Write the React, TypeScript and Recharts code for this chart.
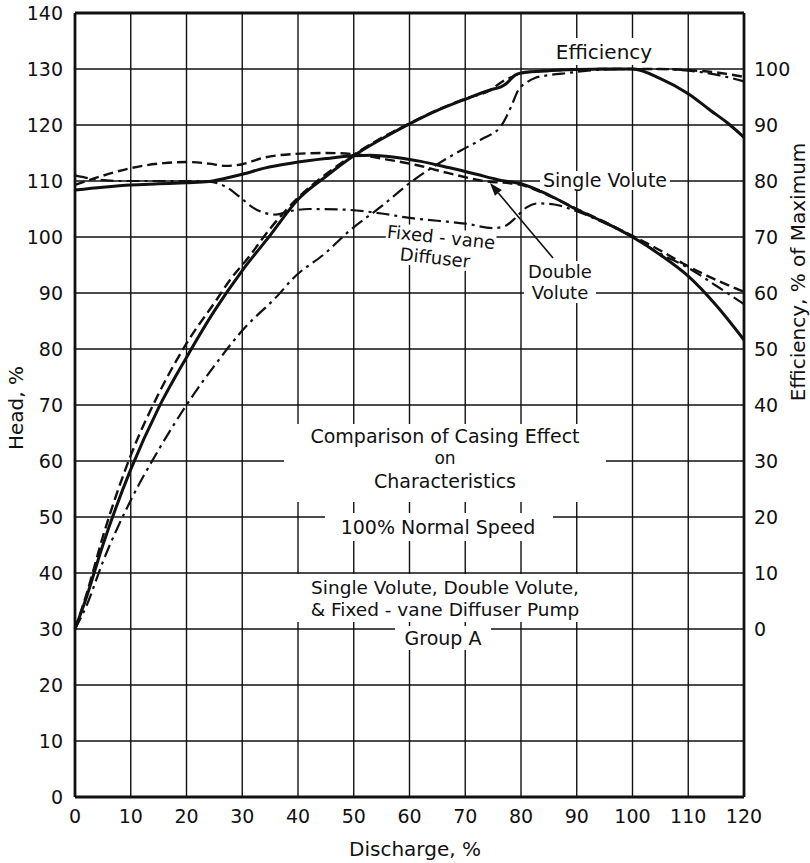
import React from 'react';
import { ComposedChart, Line, XAxis, YAxis, CartesianGrid, ReferenceLine } from 'recharts';

const FONT = '"DejaVu Sans", sans-serif';
const INK = '#111';

// axis ticks
const dischargeTicks = [0, 10, 20, 30, 40, 50, 60, 70, 80, 90, 100, 110, 120];
const headTicks = [0, 10, 20, 30, 40, 50, 60, 70, 80, 90, 100, 110, 120, 130, 140];
const effTicks = [0, 10, 20, 30, 40, 50, 60, 70, 80, 90, 100];

// head, % (left axis)
const singleHeadQ = [0, 5, 10, 15, 20, 24, 27, 30, 34, 39, 45, 50, 53, 57, 62, 67, 72, 76, 80, 85, 90, 95, 100, 105, 110, 115, 120];
const singleHead = [108.4, 108.9, 109.3, 109.5, 109.7, 109.9, 110.5, 111.2, 112.3, 113.2, 114.0, 114.5, 114.6, 114.3, 113.5, 112.4, 111.2, 110.2, 109.5, 107.5, 104.9, 102.6, 100, 96.8, 93, 87.8, 81.6];

const doubleHeadQ = [0, 4.5, 10, 16, 20, 24, 27, 30, 34, 39, 45, 50, 55, 61, 67, 74, 78, 80, 85, 90, 95, 100, 105, 109, 114, 120];
const doubleHead = [109.3, 110.8, 112.3, 113.2, 113.4, 113.1, 112.7, 113.0, 114.2, 114.8, 115.0, 114.8, 114.0, 112.9, 111.4, 109.9, 109.6, 109.3, 107.4, 105.0, 102.7, 100.2, 97.6, 95.3, 92.8, 90.2];

const fixedHeadQ = [0, 3, 8, 15, 20, 24, 27, 29.5, 32, 34, 36, 38.5, 42, 48, 55, 60, 65, 70, 75, 77, 79, 81, 83, 86, 90, 95, 100, 105, 110, 115, 120];
const fixedHead = [111, 110.4, 110.0, 110.0, 110.0, 109.9, 109.0, 107.2, 105.2, 104.3, 104.0, 104.6, 105.0, 104.9, 104.2, 103.4, 102.9, 102.4, 101.6, 101.9, 103.4, 105.3, 106.0, 105.8, 104.6, 102.5, 100.0, 97.0, 94.5, 91.3, 88.0];

// efficiency, % of maximum (right axis)
const singleEffQ = [0, 2, 5, 10, 15, 20, 25, 30, 35, 40, 45, 50, 55, 60, 65, 70, 74.6, 76.4, 77.5, 78.9, 80, 85, 90, 95, 100, 105, 110, 114, 117, 120];
const singleEff = [0, 5.5, 15, 28.5, 39.5, 48.5, 56.8, 64, 70.3, 76.7, 80.8, 84.5, 87.5, 90.2, 92.6, 94.6, 96.3, 96.8, 97.5, 98.9, 99.3, 99.7, 99.9, 100, 100, 98.3, 95.6, 92.6, 90.4, 87.8];

const doubleEffQ = [0, 2, 5, 10, 15, 20, 25.4, 27.7, 31, 35, 40, 45, 50, 55, 60, 65, 70, 74.6, 76.4, 78.2, 80, 85, 90, 95, 100, 105, 110, 115, 120];
const doubleEff = [0, 6, 16.5, 31, 42, 51, 58.8, 62.2, 66.2, 71.5, 77, 81.2, 84.7, 87.7, 90.3, 92.7, 94.7, 96.3, 97.6, 98.5, 99.2, 99.7, 99.9, 100, 100, 100, 99.8, 99.4, 98.6];

const fixedEffQ = [0, 2, 5, 10, 15, 20, 25, 30, 36.6, 39, 45, 49.1, 55, 60, 65, 69.3, 73, 76.4, 78.2, 79.5, 81, 82.5, 85, 88.4, 93, 100, 105, 110, 115, 120];
const fixedEff = [0, 4, 12, 23, 32, 40, 47, 53.3, 59.8, 62.5, 67.2, 71, 75.5, 79.6, 83, 85.5, 87.5, 89.8, 93.2, 96.2, 97.6, 98.4, 98.9, 99.3, 99.8, 100, 100, 99.7, 99, 97.8];

const zip = (q: number[], v: number[]) => q.map((x, i) => ({ q: x, v: v[i] }));

const SOLID = { stroke: INK, strokeWidth: 3 };
const DASHED = { stroke: INK, strokeWidth: 2.4, strokeDasharray: '10 5' };
const DASHDOT = { stroke: INK, strokeWidth: 2.2, strokeDasharray: '13 5 3 5' };

const tickStyle = { fontSize: 19, fill: INK, fontFamily: FONT };

function Arrow({ x1, y1, x2, y2 }: { x1: number; y1: number; x2: number; y2: number }) {
  const dx = x2 - x1, dy = y2 - y1;
  const len = Math.hypot(dx, dy);
  const ux = dx / len, uy = dy / len;
  const bx = x2 - ux * 13, by = y2 - uy * 13;
  const px = -uy * 4.5, py = ux * 4.5;
  return (
    <g>
      <line x1={x1} y1={y1} x2={bx} y2={by} stroke={INK} strokeWidth={1.6} />
      <polygon points={`${x2},${y2} ${bx + px},${by + py} ${bx - px},${by - py}`} fill={INK} />
    </g>
  );
}

function Notes() {
  const t = { fontFamily: FONT, fill: INK, textAnchor: 'middle' as const, dominantBaseline: 'central' as const };
  return (
    <svg width={810} height={863} style={{ position: 'absolute', left: 0, top: 0, pointerEvents: 'none' }}>
      {/* white patches where the drawing breaks the grid for lettering */}
      <rect x={548} y={38} width={112} height={27} fill="#fff" />
      <rect x={540} y={171} width={130} height={19} fill="#fff" />
      <rect x={385} y={228} width={110} height={40} fill="#fff" transform="rotate(6 440 248)" />
      <rect x={524} y={261} width={72} height={42} fill="#fff" />
      <rect x={284} y={424} width={322} height={78} fill="#fff" />
      <rect x={325} y={513} width={228} height={28} fill="#fff" />
      <rect x={280} y={574} width={332} height={48} fill="#fff" />
      <rect x={395} y={626} width={96} height={24} fill="#fff" />

      <text x={604} y={52} fontSize={20} {...t}>Efficiency</text>
      <text x={605} y={180} fontSize={19} {...t}>Single Volute</text>
      <g transform="rotate(6 440 248)">
        <text x={440} y={237} fontSize={18} {...t}>Fixed - vane</text>
        <text x={436} y={258} fontSize={18} {...t}>Diffuser</text>
      </g>
      <text x={560} y={271} fontSize={18} {...t}>Double</text>
      <text x={560} y={292} fontSize={18} {...t}>Volute</text>
      <Arrow x1={553} y1={258} x2={490} y2={183} />

      <text x={445} y={436} fontSize={19} {...t}>Comparison of Casing Effect</text>
      <text x={445} y={458} fontSize={17} {...t}>on</text>
      <text x={445} y={481} fontSize={19} {...t}>Characteristics</text>
      <text x={438} y={527} fontSize={19} {...t}>100% Normal Speed</text>
      <text x={445} y={587} fontSize={18.5} {...t}>Single Volute, Double Volute,</text>
      <text x={445} y={609} fontSize={18.5} {...t}>&amp; Fixed - vane Diffuser Pump</text>
      <text x={443} y={638} fontSize={19} {...t}>Group A</text>

      <text x={415} y={849} fontSize={20} {...t}>Discharge, %</text>
      <text x={16} y={408} fontSize={20} {...t} transform="rotate(-90 16 408)">Head, %</text>
      <text x={798} y={272} fontSize={20} {...t} transform="rotate(-90 798 272)">Efficiency, % of Maximum</text>
    </svg>
  );
}

export default function App() {
  return (
    <div style={{ position: 'absolute', left: 0, top: 0, width: 810, height: 863, background: '#fff' }}>
      <ComposedChart width={810} height={863} margin={{ top: 13, right: 0, bottom: 0, left: 0 }}>
        <CartesianGrid stroke={INK} strokeWidth={1.4} yAxisId="head" />
        <XAxis
          dataKey="q"
          type="number"
          domain={[0, 120]}
          ticks={dischargeTicks}
          interval={0}
          height={66}
          tickLine={false}
          tickMargin={7}
          axisLine={{ stroke: INK, strokeWidth: 2.8 }}
          tick={tickStyle}
        />
        <YAxis
          yAxisId="head"
          orientation="left"
          type="number"
          domain={[0, 140]}
          ticks={headTicks}
          interval={0}
          width={75}
          tickLine={false}
          tickMargin={6}
          axisLine={{ stroke: INK, strokeWidth: 2.8 }}
          tick={tickStyle}
        />
        <YAxis
          yAxisId="eff"
          orientation="right"
          type="number"
          domain={[-30, 110]}
          ticks={effTicks}
          interval={0}
          width={66}
          tickLine={false}
          tickMargin={4}
          axisLine={{ stroke: INK, strokeWidth: 2.8 }}
          tick={tickStyle}
        />
        <ReferenceLine yAxisId="head" y={140} stroke={INK} strokeWidth={2.8} />

        <Line yAxisId="head" data={zip(singleHeadQ, singleHead)} dataKey="v" type="monotone" dot={false} {...SOLID} isAnimationActive={false} />
        <Line yAxisId="head" data={zip(doubleHeadQ, doubleHead)} dataKey="v" type="monotone" dot={false} {...DASHED} isAnimationActive={false} />
        <Line yAxisId="head" data={zip(fixedHeadQ, fixedHead)} dataKey="v" type="monotone" dot={false} {...DASHDOT} isAnimationActive={false} />

        <Line yAxisId="eff" data={zip(singleEffQ, singleEff)} dataKey="v" type="monotone" dot={false} {...SOLID} isAnimationActive={false} />
        <Line yAxisId="eff" data={zip(doubleEffQ, doubleEff)} dataKey="v" type="monotone" dot={false} {...DASHED} isAnimationActive={false} />
        <Line yAxisId="eff" data={zip(fixedEffQ, fixedEff)} dataKey="v" type="monotone" dot={false} {...DASHDOT} isAnimationActive={false} />
      </ComposedChart>
      <Notes />
    </div>
  );
}
